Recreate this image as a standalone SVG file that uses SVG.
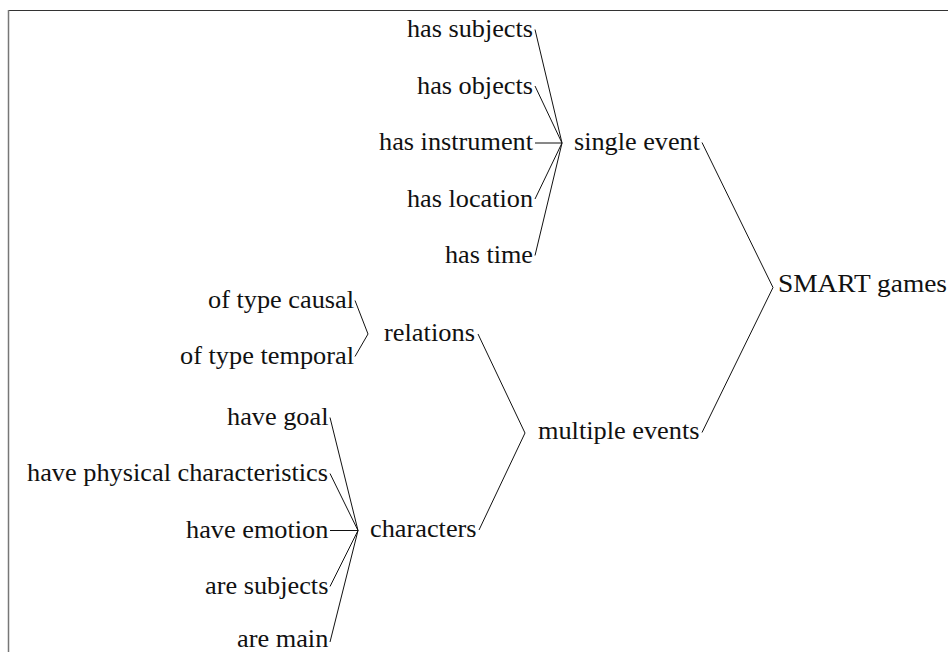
<svg xmlns="http://www.w3.org/2000/svg" width="948" height="652" viewBox="0 0 948 652">
  <style>
    text { font-family: "Liberation Serif", "Times New Roman", serif; font-size: 25px; fill: #111; }
    .edge { stroke: #111; stroke-width: 1; fill: none; }
    .frame-top { stroke: #333; stroke-width: 1.2; }
    .frame-left { stroke: #777; stroke-width: 1.5; }
  </style>

  <rect width="948" height="652" fill="#fff"/>

  <!-- page frame -->
  <line class="frame-top" x1="8.5" y1="10.5" x2="948" y2="10.5"/>
  <line class="frame-left" x1="8.5" y1="10" x2="8.5" y2="652"/>

  <!-- connectors -->
  <g id="edges">
    <!-- root -->
    <path class="edge" d="M702,142.5 L773,287.5 L702,432.5"/>
    <!-- single event -->
    <path class="edge" d="M535,29.5 L562,143"/>
    <path class="edge" d="M535,86 L562,143"/>
    <path class="edge" d="M535,143 L562,143"/>
    <path class="edge" d="M535,199 L562,143"/>
    <path class="edge" d="M535,255.5 L562,143"/>
    <!-- multiple events -->
    <path class="edge" d="M478,334 L525,433 L479,530"/>
    <!-- relations -->
    <path class="edge" d="M355,300.5 L368,334 L355,356.5"/>
    <!-- characters -->
    <path class="edge" d="M330,417.5 L358,530.5"/>
    <path class="edge" d="M330,473.5 L358,530.5"/>
    <path class="edge" d="M330,530.5 L358,530.5"/>
    <path class="edge" d="M330,586.5 L358,530.5"/>
    <path class="edge" d="M330,642 L358,530.5"/>
  </g>

  <!-- nodes -->
  <g id="smart-games"><text x="778" y="292" textLength="169" lengthAdjust="spacingAndGlyphs">SMART games</text></g>

  <g id="single-event"><text x="574" y="150" textLength="126" lengthAdjust="spacingAndGlyphs">single event</text></g>
  <g id="has-subjects"><text x="407" y="37" textLength="126" lengthAdjust="spacingAndGlyphs">has subjects</text></g>
  <g id="has-objects"><text x="417" y="93.5" textLength="116" lengthAdjust="spacingAndGlyphs">has objects</text></g>
  <g id="has-instrument"><text x="379" y="150" textLength="154" lengthAdjust="spacingAndGlyphs">has instrument</text></g>
  <g id="has-location"><text x="407" y="206.5" textLength="126" lengthAdjust="spacingAndGlyphs">has location</text></g>
  <g id="has-time"><text x="445" y="263" textLength="88" lengthAdjust="spacingAndGlyphs">has time</text></g>

  <g id="multiple-events"><text x="538" y="439" textLength="161.5" lengthAdjust="spacingAndGlyphs">multiple events</text></g>
  <g id="relations"><text x="384" y="341" textLength="91" lengthAdjust="spacingAndGlyphs">relations</text></g>
  <g id="of-type-causal"><text x="208" y="308" textLength="146" lengthAdjust="spacingAndGlyphs">of type causal</text></g>
  <g id="of-type-temporal"><text x="180" y="364" textLength="174" lengthAdjust="spacingAndGlyphs">of type temporal</text></g>

  <g id="characters"><text x="370" y="537" textLength="106.6" lengthAdjust="spacingAndGlyphs">characters</text></g>
  <g id="have-goal"><text x="227" y="425" textLength="101.5" lengthAdjust="spacingAndGlyphs">have goal</text></g>
  <g id="have-physical-characteristics"><text x="27" y="481" textLength="301" lengthAdjust="spacingAndGlyphs">have physical characteristics</text></g>
  <g id="have-emotion"><text x="186" y="538" textLength="142.4" lengthAdjust="spacingAndGlyphs">have emotion</text></g>
  <g id="are-subjects"><text x="205" y="594" textLength="123.4" lengthAdjust="spacingAndGlyphs">are subjects</text></g>
  <g id="are-main"><text x="237" y="647" textLength="91.3" lengthAdjust="spacingAndGlyphs">are main</text></g>
</svg>
